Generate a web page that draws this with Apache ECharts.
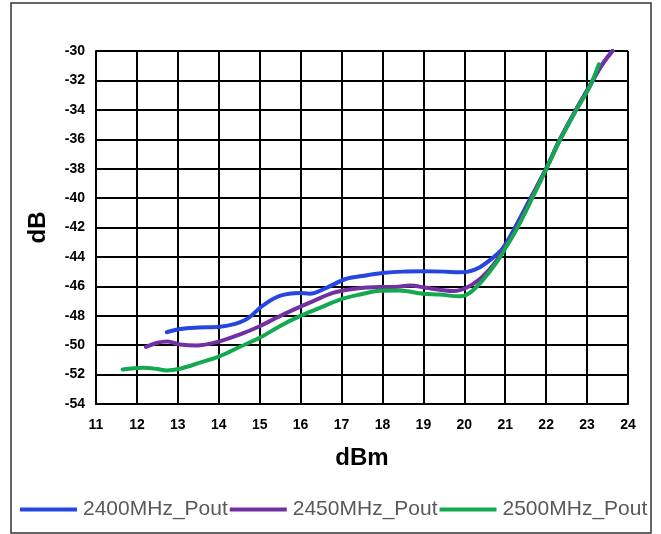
<!DOCTYPE html>
<html>
<head>
<meta charset="utf-8">
<title>Pout vs input power</title>
<script src="https://cdn.jsdelivr.net/npm/echarts@6/dist/echarts.min.js"></script>
<style>
  html, body { margin: 0; padding: 0; background: #fff; }
  #chart { width: 661px; height: 534px; }
</style>
</head>
<body>
<div id="chart"></div>
<script>
// Series names shown in the legend
const seriesNames = ['2400MHz_Pout', '2450MHz_Pout', '2500MHz_Pout'];
const seriesColors = ['#2547E0', '#7231A2', '#14A850'];

// Measured curves: [input power dBm, level dB]
const pout2400 = [
  [12.73, -49.12], [13.05, -48.9], [13.5, -48.8], [14.03, -48.75], [14.4, -48.55],
  [14.7, -48.2], [15.08, -47.3], [15.49, -46.65], [15.98, -46.45], [16.22, -46.5],
  [16.63, -46.1], [17.1, -45.5], [17.5, -45.3], [18.0, -45.1], [18.5, -45.0],
  [19.0, -44.98], [19.5, -45.0], [19.89, -45.05], [20.1, -45.0], [20.38, -44.7],
  [20.7, -44.05], [20.94, -43.4], [21.19, -42.25], [21.6, -40.1], [22.0, -38.0],
  [22.33, -36.05], [22.73, -34.0], [23.06, -32.4], [23.35, -31.0], [23.62, -30.0]
];
const pout2450 = [
  [12.22, -50.12], [12.48, -49.85], [12.74, -49.75], [13.05, -49.95], [13.46, -50.02],
  [14.03, -49.73], [14.52, -49.27], [15.0, -48.71], [15.49, -48.03], [15.98, -47.4],
  [16.31, -47.0], [16.79, -46.45], [17.28, -46.18], [17.93, -46.05], [18.3, -46.05],
  [18.67, -45.95], [19.07, -46.1], [19.45, -46.25], [19.75, -46.32], [20.05, -46.1],
  [20.38, -45.5], [20.6, -44.9], [20.8, -44.2], [21.03, -43.2], [21.27, -42.1],
  [21.62, -40.1], [22.0, -38.0], [22.33, -36.05], [22.73, -34.0], [23.06, -32.4],
  [23.35, -31.0], [23.62, -30.0]
];
const pout2500 = [
  [11.65, -51.65], [12.15, -51.53], [12.5, -51.62], [12.72, -51.72], [13.05, -51.6],
  [13.54, -51.19], [14.03, -50.75], [14.52, -50.11], [15.0, -49.5], [15.49, -48.71],
  [15.98, -48.03], [16.47, -47.47], [16.96, -46.9], [17.45, -46.56], [17.93, -46.3],
  [18.42, -46.29], [18.99, -46.5], [19.4, -46.56], [19.89, -46.68], [20.13, -46.45],
  [20.46, -45.55], [20.78, -44.41], [21.03, -43.29], [21.27, -42.16], [21.64, -40.12],
  [22.0, -38.05], [22.33, -36.1], [22.73, -34.05], [23.06, -32.45], [23.29, -30.9]
];
const seriesData = [pout2400, pout2450, pout2500];

// Axis ranges
const xRange = { min: 11, max: 24, step: 1 };
const yRange = { min: -54, max: -30, step: 2 };

const chart = echarts.init(document.getElementById('chart'), null, { renderer: 'canvas' });

const gridLine = { show: true, lineStyle: { color: '#000', width: 2 } };
const tickFont = { color: '#000', fontWeight: 'bold', fontSize: 14, fontFamily: 'Arial, "Liberation Sans", sans-serif' };
const nameFont = { color: '#000', fontWeight: 'bold', fontSize: 24, fontFamily: 'Arial, "Liberation Sans", sans-serif' };

chart.setOption({
  animation: false,
  backgroundColor: '#fff',
  graphic: [{
    type: 'rect',
    shape: { x: 11, y: 3, width: 640, height: 530 },
    style: { fill: 'none', stroke: '#333', lineWidth: 1.5 },
    silent: true
  }],
  grid: { left: 96, top: 51, right: 33, bottom: 130, containLabel: false },
  legend: {
    data: seriesNames,
    left: 15,
    top: 494,
    icon: 'rect',
    itemWidth: 57,
    itemHeight: 4,
    itemGap: 2,
    textStyle: { color: '#595959', fontSize: 21, fontFamily: 'Arial, "Liberation Sans", sans-serif', padding: [0, 0, 0, 1] }
  },
  xAxis: {
    type: 'value',
    min: xRange.min, max: xRange.max, interval: xRange.step,
    name: 'dBm',
    nameLocation: 'middle',
    nameGap: 42,
    nameTextStyle: nameFont,
    axisLine: { show: true, lineStyle: { color: '#000', width: 2 } },
    axisTick: { show: false },
    axisLabel: Object.assign({ margin: 14 }, tickFont),
    splitLine: gridLine
  },
  yAxis: {
    type: 'value',
    min: yRange.min, max: yRange.max, interval: yRange.step,
    name: 'dB',
    nameLocation: 'middle',
    nameGap: 46,
    nameTextStyle: nameFont,
    axisLine: { show: true, lineStyle: { color: '#000', width: 2 } },
    axisTick: { show: false },
    axisLabel: Object.assign({ margin: 11 }, tickFont),
    splitLine: gridLine
  },
  series: seriesNames.map((name, i) => ({
    name: name,
    type: 'line',
    data: seriesData[i],
    smooth: 0.35,
    showSymbol: false,
    symbol: 'none',
    clip: true,
    color: seriesColors[i],
    lineStyle: { color: seriesColors[i], width: 4, cap: 'round' },
    z: 2 + i
  }))
});
</script>
</body>
</html>
